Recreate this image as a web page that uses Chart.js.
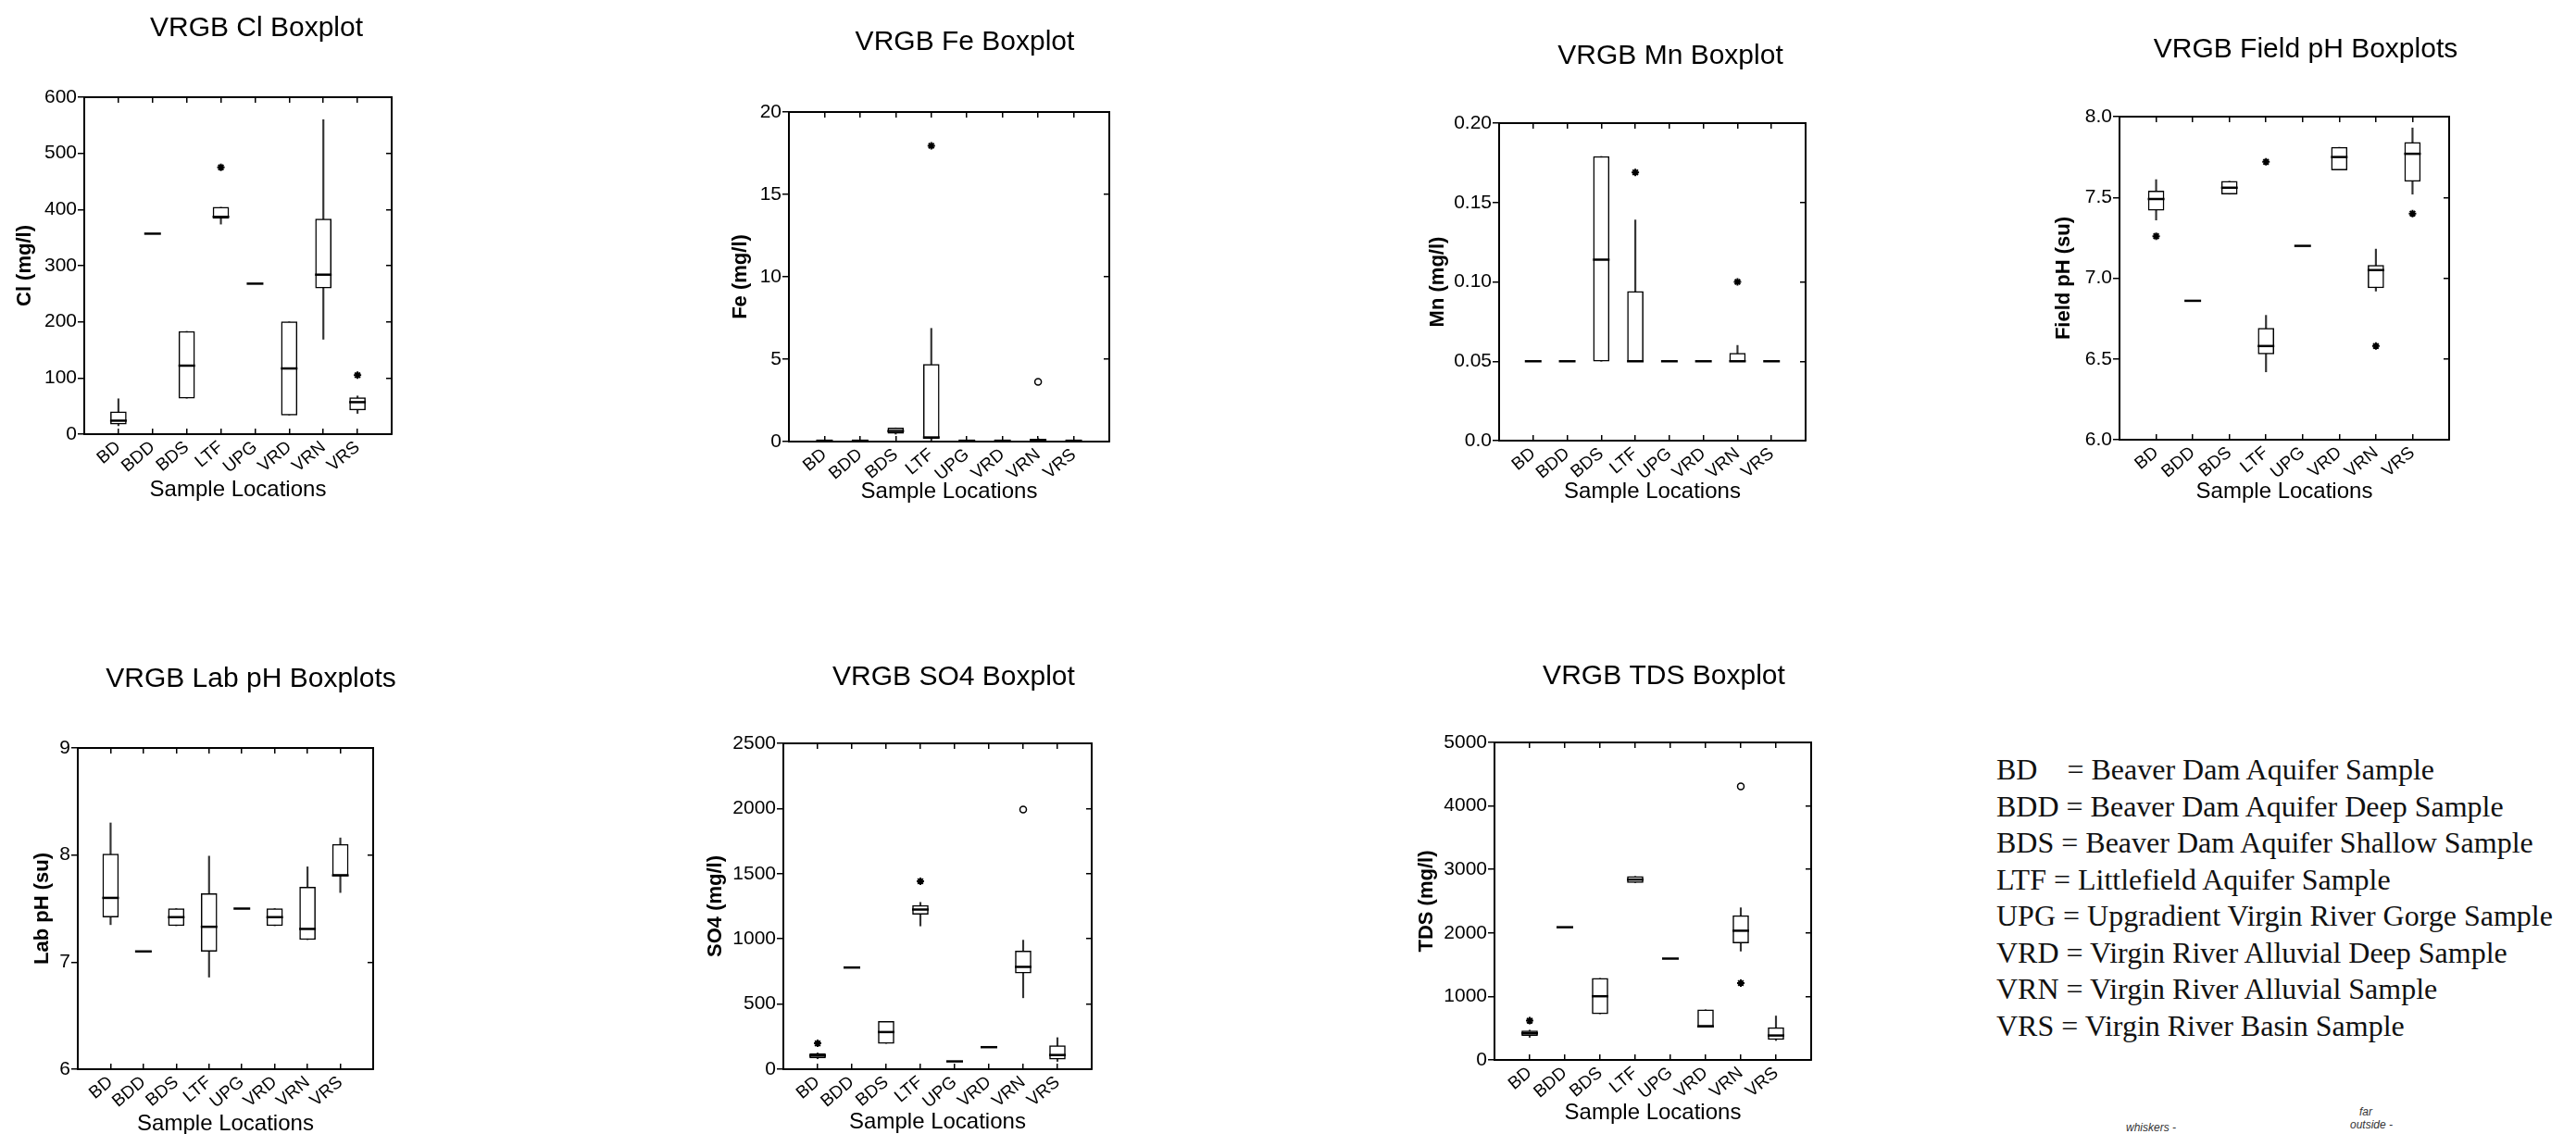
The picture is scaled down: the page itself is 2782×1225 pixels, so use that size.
<!DOCTYPE html>
<html>
<head>
<meta charset="utf-8">
<script src="https://cdn.jsdelivr.net/npm/chart.js@4.4.1/dist/chart.umd.min.js"></script>
<style>
  html, body { margin: 0; padding: 0; background: #fff; }
  body { width: 2782px; height: 1225px; overflow: hidden; position: relative; }
  canvas { position: absolute; }
  #legend {
    position: absolute; left: 2156px; top: 812px;
    font-family: 'Liberation Serif', 'Times New Roman', serif;
    font-size: 32px; line-height: 39.5px; color: #111; white-space: pre;
  }
  .note { position: absolute; font-family: 'Liberation Sans', Arial, sans-serif; font-style: italic; font-size: 12px; color: #333; }
</style>
</head>
<body>
<div id="legend"></div>
<div class="note" style="left:2296px; top:1211px;">whiskers -</div>
<div class="note" style="left:2548px; top:1194px;">far</div>
<div class="note" style="left:2538px; top:1208px;">outside -</div>
<script>
const locations = ['BD', 'BDD', 'BDS', 'LTF', 'UPG', 'VRD', 'VRN', 'VRS'];
const locationNames = [
  'Beaver Dam Aquifer Sample',
  'Beaver Dam Aquifer Deep Sample',
  'Beaver Dam Aquifer Shallow Sample',
  'Littlefield Aquifer Sample',
  'Upgradient Virgin River Gorge Sample',
  'Virgin River Alluvial Deep Sample',
  'Virgin River Alluvial Sample',
  'Virgin River Basin Sample'
];

// Cl (mg/l)
const clTicks = [0, 100, 200, 300, 400, 500, 600];
const clTickLabels = ['0', '100', '200', '300', '400', '500', '600'];
const clLow = [15, 357, 64, 374, 268, 34, 169, 37];
const clQ1 = [18, 357, 64, 384, 268, 34, 260, 43];
const clMedian = [24, 357, 122, 387, 268, 117, 284, 57];
const clQ3 = [40, 357, 183, 404, 268, 200, 383, 65];
const clHigh = [63, 357, 183, 404, 268, 200, 560, 68];
const clOutside = [['LTF', 475], ['VRS', 105]];
const clFar = [];

// Fe (mg/l)
const feTicks = [0, 5, 10, 15, 20];
const feTickLabels = ['0', '5', '10', '15', '20'];
const feLow = [0.05, 0.05, 0.45, 0.1, 0.05, 0.05, 0.05, 0.05];
const feQ1 = [0.05, 0.05, 0.5, 0.19, 0.05, 0.05, 0.05, 0.05];
const feMedian = [0.05, 0.05, 0.64, 0.25, 0.05, 0.05, 0.1, 0.05];
const feQ3 = [0.05, 0.05, 0.83, 4.69, 0.05, 0.05, 0.15, 0.05];
const feHigh = [0.05, 0.05, 0.83, 6.87, 0.05, 0.05, 0.2, 0.05];
const feOutside = [['LTF', 17.95]];
const feFar = [['VRN', 3.63]];

// Mn (mg/l)
const mnTicks = [0, 0.05, 0.1, 0.15, 0.2];
const mnTickLabels = ['0.0', '0.05', '0.10', '0.15', '0.20'];
const mnLow = [0.05, 0.05, 0.05, 0.05, 0.05, 0.05, 0.05, 0.05];
const mnQ1 = [0.05, 0.05, 0.05, 0.05, 0.05, 0.05, 0.05, 0.05];
const mnMedian = [0.05, 0.05, 0.114, 0.05, 0.05, 0.05, 0.05, 0.05];
const mnQ3 = [0.05, 0.05, 0.179, 0.094, 0.05, 0.05, 0.055, 0.05];
const mnHigh = [0.05, 0.05, 0.179, 0.139, 0.05, 0.05, 0.06, 0.05];
const mnOutside = [['LTF', 0.169], ['VRN', 0.1]];
const mnFar = [];

// Field pH (su)
const fphTicks = [6, 6.5, 7, 7.5, 8];
const fphTickLabels = ['6.0', '6.5', '7.0', '7.5', '8.0'];
const fphLow = [7.36, 6.86, 7.52, 6.42, 7.2, 7.67, 6.92, 7.52];
const fphQ1 = [7.42, 6.86, 7.52, 6.53, 7.2, 7.67, 6.94, 7.6];
const fphMedian = [7.49, 6.86, 7.56, 6.58, 7.2, 7.75, 7.05, 7.77];
const fphQ3 = [7.54, 6.86, 7.6, 6.69, 7.2, 7.81, 7.08, 7.84];
const fphHigh = [7.61, 6.86, 7.6, 6.77, 7.2, 7.81, 7.18, 7.93];
const fphOutside = [['BD', 7.26], ['VRN', 6.58], ['LTF', 7.72], ['VRS', 7.4]];
const fphFar = [];

// Lab pH (su)
const lphTicks = [6, 7, 8, 9];
const lphTickLabels = ['6', '7', '8', '9'];
const lphLow = [7.35, 7.1, 7.34, 6.86, 7.5, 7.34, 7.21, 7.65];
const lphQ1 = [7.42, 7.1, 7.34, 7.1, 7.5, 7.34, 7.21, 7.81];
const lphMedian = [7.6, 7.1, 7.42, 7.33, 7.5, 7.42, 7.31, 7.81];
const lphQ3 = [8.01, 7.1, 7.5, 7.64, 7.5, 7.5, 7.7, 8.1];
const lphHigh = [8.3, 7.1, 7.5, 7.99, 7.5, 7.5, 7.89, 8.16];
const lphOutside = [];
const lphFar = [];

// SO4 (mg/l)
const so4Ticks = [0, 500, 1000, 1500, 2000, 2500];
const so4TickLabels = ['0', '500', '1000', '1500', '2000', '2500'];
const so4Low = [80, 780, 198, 1099, 60, 169, 548, 60];
const so4Q1 = [85, 780, 198, 1188, 60, 169, 737, 77];
const so4Median = [104, 780, 285, 1225, 60, 169, 785, 109];
const so4Q3 = [120, 780, 367, 1256, 60, 169, 906, 181];
const so4High = [125, 780, 367, 1280, 60, 169, 990, 242];
const so4Outside = [['BD', 198], ['LTF', 1442]];
const so4Far = [['VRN', 1993]];

// TDS (mg/l)
const tdsTicks = [0, 1000, 2000, 3000, 4000, 5000];
const tdsTickLabels = ['0', '1000', '2000', '3000', '4000', '5000'];
const tdsLow = [356, 2090, 726, 2791, 1596, 529, 1714, 306];
const tdsQ1 = [385, 2090, 726, 2791, 1596, 529, 1843, 321];
const tdsMedian = [420, 2090, 1003, 2840, 1596, 529, 2035, 385];
const tdsQ3 = [459, 2090, 1285, 2890, 1596, 790, 2273, 509];
const tdsHigh = [470, 2090, 1285, 2890, 1596, 790, 2396, 692];
const tdsOutside = [['BD', 618], ['VRN', 1210]];
const tdsFar = [['VRN', 4308]];

// panel layout: plot box [left, top, right, bottom], title centre, axis title spots
const panels = [
  { title: 'VRGB Cl Boxplot', yTitle: 'Cl (mg/l)', ticks: clTicks, tickLabels: clTickLabels,
    low: clLow, q1: clQ1, median: clMedian, q3: clQ3, high: clHigh, outside: clOutside, far: clFar,
    box: [91, 105, 423, 469], titleAt: [277, 31], yTitleX: 27, xTitleY: 530 },
  { title: 'VRGB Fe Boxplot', yTitle: 'Fe (mg/l)', ticks: feTicks, tickLabels: feTickLabels,
    low: feLow, q1: feQ1, median: feMedian, q3: feQ3, high: feHigh, outside: feOutside, far: feFar,
    box: [852, 121, 1198, 477], titleAt: [1042, 46], yTitleX: 800, xTitleY: 532 },
  { title: 'VRGB Mn Boxplot', yTitle: 'Mn (mg/l)', ticks: mnTicks, tickLabels: mnTickLabels,
    low: mnLow, q1: mnQ1, median: mnMedian, q3: mnQ3, high: mnHigh, outside: mnOutside, far: mnFar,
    box: [1619, 133, 1950, 476], titleAt: [1804, 61], yTitleX: 1553, xTitleY: 532 },
  { title: 'VRGB Field pH Boxplots', yTitle: 'Field pH (su)', ticks: fphTicks, tickLabels: fphTickLabels,
    low: fphLow, q1: fphQ1, median: fphMedian, q3: fphQ3, high: fphHigh, outside: fphOutside, far: fphFar,
    box: [2289, 126, 2645, 475], titleAt: [2490, 54], yTitleX: 2229, xTitleY: 532 },
  { title: 'VRGB Lab pH Boxplots', yTitle: 'Lab pH (su)', ticks: lphTicks, tickLabels: lphTickLabels,
    low: lphLow, q1: lphQ1, median: lphMedian, q3: lphQ3, high: lphHigh, outside: lphOutside, far: lphFar,
    box: [84, 808, 403, 1155], titleAt: [271, 734], yTitleX: 46, xTitleY: 1215 },
  { title: 'VRGB SO4 Boxplot', yTitle: 'SO4 (mg/l)', ticks: so4Ticks, tickLabels: so4TickLabels,
    low: so4Low, q1: so4Q1, median: so4Median, q3: so4Q3, high: so4High, outside: so4Outside, far: so4Far,
    box: [846, 803, 1179, 1155], titleAt: [1030, 732], yTitleX: 773, xTitleY: 1213 },
  { title: 'VRGB TDS Boxplot', yTitle: 'TDS (mg/l)', ticks: tdsTicks, tickLabels: tdsTickLabels,
    low: tdsLow, q1: tdsQ1, median: tdsMedian, q3: tdsQ3, high: tdsHigh, outside: tdsOutside, far: tdsFar,
    box: [1614, 802, 1956, 1145], titleAt: [1797, 731], yTitleX: 1541, xTitleY: 1203 }
];

Chart.defaults.font.family = "'Liberation Sans', Arial, sans-serif";
Chart.defaults.color = '#000';

const positions = locations.map((_, i) => i + 1);
const ranges = (a, b) => locations.map((_, i) => ({ x: i + 1, y: [a[i], b[i]] }));
const points = (v) => locations.map((_, i) => ({ x: i + 1, y: v[i] }));
const outliers = (list) => list.map(([loc, v]) => ({ x: locations.indexOf(loc) + 1, y: v }));

const axisGrid = { drawOnChartArea: false, drawTicks: true, tickLength: 7, color: '#000', lineWidth: 1.5 };
// negative length puts the tick marks inside the frame
const innerGrid = { ...axisGrid, tickLength: -6, offset: false };
const axisBorder = { display: true, color: '#000', width: 2 };

function makePanel(p) {
  const [L, T, R, B] = p.box;
  const cl = Math.round(p.yTitleX - 13);
  const ct = Math.round(p.titleAt[1] - 18);
  const cr = Math.round(2 * p.titleAt[0] - cl);
  const cb = Math.round(p.xTitleY + 14);
  const topH = 4;

  const canvas = document.createElement('canvas');
  canvas.width = cr - cl;
  canvas.height = cb - ct;
  canvas.style.left = cl + 'px';
  canvas.style.top = ct + 'px';
  document.body.appendChild(canvas);

  const yMin = p.ticks[0];
  const yMax = p.ticks[p.ticks.length - 1];
  const setY = (scale) => { scale.ticks = p.ticks.map(v => ({ value: v })); };
  const setX = (scale) => { scale.ticks = positions.map(v => ({ value: v })); };

  new Chart(canvas.getContext('2d'), {
    type: 'bar',
    data: {
      datasets: [
        { type: 'bar', data: ranges(p.low, p.high), barThickness: 1.5, backgroundColor: '#333',
          grouped: false, order: 4 },
        { type: 'bar', data: ranges(p.q1, p.q3), barThickness: 17, backgroundColor: '#fff',
          borderColor: '#000', borderWidth: 1.5, borderSkipped: false, grouped: false, order: 3 },
        { type: 'scatter', data: points(p.median), pointStyle: 'line', pointRadius: 9,
          borderColor: '#000', borderWidth: 2.5, order: 2 },
        { type: 'scatter', data: outliers(p.outside), pointStyle: 'star', pointRadius: 4,
          borderColor: '#000', borderWidth: 2, order: 1 },
        { type: 'scatter', data: outliers(p.far), pointStyle: 'circle', pointRadius: 3.5,
          backgroundColor: '#fff', borderColor: '#000', borderWidth: 1.5, order: 0 }
      ]
    },
    options: {
      responsive: false,
      devicePixelRatio: 1,
      animation: false,
      events: [],
      layout: { padding: 0 },
      plugins: {
        legend: { display: false },
        tooltip: { enabled: false },
        title: {
          display: true, text: p.title, color: '#000',
          font: { size: 30, weight: 'normal' },
          padding: { top: 0, bottom: T - ct - 36 - topH }
        }
      },
      scales: {
        x: {
          type: 'linear', position: 'bottom', min: 0, max: 9, offset: false,
          afterBuildTicks: setX,
          afterFit: (s) => { s.height = cb - B; },
          ticks: { autoSkip: false, minRotation: 40, maxRotation: 40, padding: 9,
                   font: { size: 19 }, color: '#000',
                   callback: (v) => locations[v - 1] },
          grid: innerGrid,
          border: axisBorder,
          title: { display: true, text: 'Sample Locations', font: { size: 24 }, padding: 0 }
        },
        xTop: {
          type: 'linear', position: 'top', min: 0, max: 9, offset: false,
          afterBuildTicks: setX,
          afterFit: (s) => { s.height = topH; },
          ticks: { display: false },
          grid: innerGrid,
          border: axisBorder
        },
        y: {
          type: 'linear', position: 'left', min: yMin, max: yMax,
          afterBuildTicks: setY,
          afterFit: (s) => { s.width = L - cl; },
          ticks: { padding: 1, font: { size: 21 }, color: '#000',
                   callback: (v, i) => p.tickLabels[i] },
          grid: axisGrid,
          border: axisBorder,
          title: { display: true, text: p.yTitle, font: { size: 22, weight: 'bold' }, padding: 0 }
        },
        yRight: {
          type: 'linear', position: 'right', min: yMin, max: yMax,
          afterBuildTicks: setY,
          afterFit: (s) => { s.width = cr - R; },
          ticks: { display: false },
          grid: { ...innerGrid, offset: undefined },
          border: axisBorder
        }
      }
    }
  });
}

panels.forEach(makePanel);

const legend = document.getElementById('legend');
legend.textContent = locations.map((code, i) =>
  (code === 'BD' ? 'BD    ' : code + ' ') + '= ' + locationNames[i]).join('\n');
</script>
</body>
</html>
